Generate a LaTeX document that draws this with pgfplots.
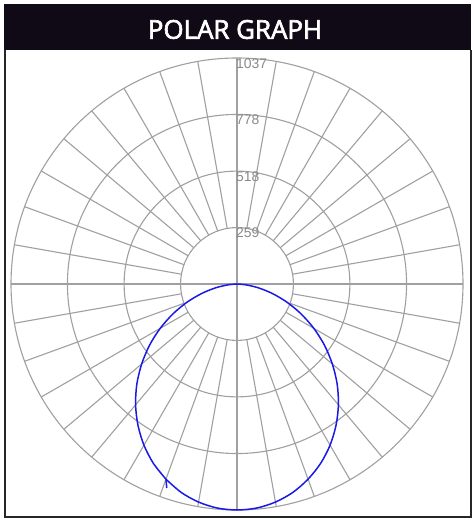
\documentclass[border=0pt]{standalone}
\usepackage{pgfplots}
\pgfplotsset{compat=1.18}
\usepgfplotslibrary{polar}
\usepackage{fontspec}
\setmainfont{Liberation Sans}
\newfontfamily\titlefont[FakeBold=2.5]{Open Sans}
\definecolor{barbg}{HTML}{100A17}
\definecolor{gridgray}{HTML}{A0A0A0}
\definecolor{labgray}{HTML}{8A8A8A}
\definecolor{curveblue}{HTML}{1A1AE6}

\begin{document}
\begin{tikzpicture}[x=1bp,y=1bp]
% page and frame
\fill[white] (0,0) rectangle (476,524);
\fill[barbg] (4,474) rectangle (471,520);
\node[text=white, font=\titlefont\fontsize{26}{30}\selectfont] at (235,494.5) {POLAR GRAPH};
\draw[line width=2bp, draw=black!85] (5,474) -- (5,7) -- (470.5,7) -- (470.5,474);

\begin{polaraxis}[
    at={(237bp,240bp)}, anchor=center,
    width=452bp, height=452bp, scale only axis,
    xmin=0, xmax=360, ymin=0, ymax=1037,
    xtick={0,90,180,270},
    ytick={259,518,778,1037},
    xticklabels={}, yticklabels={},
    major tick length=0pt,
    grid=major,
    major grid style={draw=gridgray, line width=1.1bp},
    axis line style={draw=none},
    clip=false,
]
% spokes that start at the first ring
\pgfplotsinvokeforeach{10,20,30,40,50,60,70,80,100,110,120,130,140,150,160,170,190,200,210,220,230,240,250,260,280,290,300,310,320,330,340,350}{
    \draw[gridgray, line width=1.1bp] (axis cs:#1,259) -- (axis cs:#1,1037);
}
% ring values
\pgfplotsinvokeforeach{259,518,778,1037}{
    \node[anchor=north west, inner sep=0pt, xshift=-1bp, yshift=-0.5bp,
          text=labgray, font=\fontsize{14}{14}\selectfont] at (axis cs:90,#1) {#1};
}
% intensity curve
\addplot[curveblue, line width=1.5bp, smooth, tension=0.5] coordinates {
    (250,953) (255,990) (260,1016) (265,1032) (270,1037)
    (275,1032) (280,1016) (285,990) (290,953) (295,908) (300,854)
    (305,792) (310,724) (315,650) (320,571) (325,490) (330,407)
    (335,324) (340,244) (345,167) (350,98) (355,38) (360,0)
    (180,0) (185,38) (190,98) (195,167) (200,244) (205,324)
    (210,407) (215,490) (220,571) (225,650) (230,724) (235,792)
    (240,854) (245,908) (250,953)
};
% short stub where the measured curve closes
\addplot[curveblue, line width=1.5bp] coordinates {(251,990) (250,953)};
\end{polaraxis}
\end{tikzpicture}
\end{document}
